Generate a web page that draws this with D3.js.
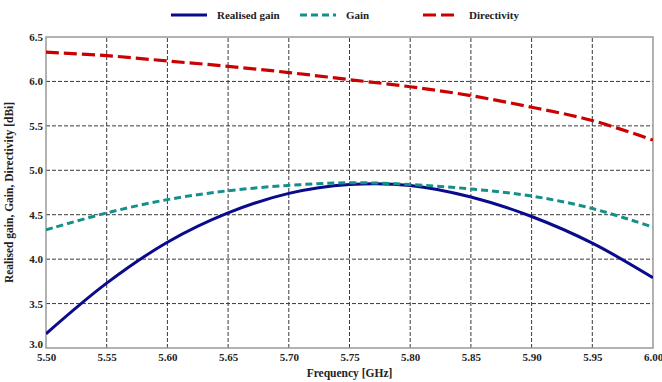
<!DOCTYPE html>
<html>
<head>
<meta charset="utf-8">
<script src="https://cdn.jsdelivr.net/npm/d3@7"></script>
<style>
  html, body { margin: 0; padding: 0; background: #fff; }
  svg text { font-family: "Liberation Serif", "Times New Roman", serif; font-weight: bold; fill: #222; }
</style>
</head>
<body>
<svg id="chart" width="662" height="382"></svg>
<script>
// Frequency sweep (GHz) and the three antenna quantities (dBi)
const freq = [5.50, 5.55, 5.60, 5.65, 5.70, 5.75, 5.80, 5.85, 5.90, 5.95, 6.00];
const realisedGain = [3.16, 3.73, 4.19, 4.52, 4.74, 4.84, 4.83, 4.70, 4.48, 4.18, 3.79];
const gain = [4.33, 4.52, 4.67, 4.77, 4.83, 4.86, 4.84, 4.79, 4.71, 4.57, 4.36];
const directivity = [6.33, 6.29, 6.23, 6.17, 6.10, 6.02, 5.94, 5.84, 5.71, 5.56, 5.34];
const xTicks = [5.50, 5.55, 5.60, 5.65, 5.70, 5.75, 5.80, 5.85, 5.90, 5.95, 6.00];
const yTicks = [3.0, 3.5, 4.0, 4.5, 5.0, 5.5, 6.0, 6.5];

const series = [
  { name: "Realised gain", values: realisedGain, color: "#0a0a8c", dash: null, width: 3 },
  { name: "Gain", values: gain, color: "#14908a", dash: "7,4", width: 3 },
  { name: "Directivity", values: directivity, color: "#cc0000", dash: "13,5", width: 3.2 }
];

const svg = d3.select("#chart");
const m = { left: 46, right: 9, top: 37, bottom: 34 };
const W = 662, H = 382;
const x = d3.scaleLinear().domain([5.5, 6.0]).range([m.left, W - m.right]);
const y = d3.scaleLinear().domain([3.0, 6.5]).range([H - m.bottom, m.top]);

// grid
const grid = svg.append("g");
grid.selectAll("line.v").data(xTicks.slice(1, -1)).enter().append("line")
  .attr("x1", d => x(d)).attr("x2", d => x(d))
  .attr("y1", y(3.0)).attr("y2", y(6.5))
  .attr("stroke", "#3a3a3a").attr("stroke-width", 1).attr("stroke-dasharray", "4,2");
grid.selectAll("line.h").data(yTicks.slice(1, -1)).enter().append("line")
  .attr("y1", d => y(d)).attr("y2", d => y(d))
  .attr("x1", x(5.5)).attr("x2", x(6.0))
  .attr("stroke", "#3a3a3a").attr("stroke-width", 1).attr("stroke-dasharray", "4,2");

// frame
svg.append("rect")
  .attr("x", x(5.5)).attr("y", y(6.5))
  .attr("width", x(6.0) - x(5.5)).attr("height", y(3.0) - y(6.5))
  .attr("fill", "none").attr("stroke", "#999").attr("stroke-width", 1.5);

// tick labels
const xAxis = d3.axisBottom(x).tickValues(xTicks).tickFormat(d3.format(".2f")).tickSize(0).tickPadding(5);
const gx = svg.append("g").attr("transform", `translate(0,${y(3.0)})`).call(xAxis);
gx.select(".domain").remove();
gx.selectAll("text").attr("font-size", 11).style("font-family", "Liberation Serif").style("font-weight", "bold").attr("fill", "#222");

const yAxis = d3.axisLeft(y).tickValues(yTicks).tickFormat(d3.format(".1f")).tickSize(0).tickPadding(3);
const gy = svg.append("g").attr("transform", `translate(${x(5.5)},0)`).call(yAxis);
gy.select(".domain").remove();
gy.selectAll("text").attr("font-size", 11).style("font-family", "Liberation Serif").style("font-weight", "bold").attr("fill", "#222");
// lift the bottom value label clear of the first frequency label
gy.selectAll(".tick").filter(d => d === 3.0).select("text").attr("y", -4);

// lines
const line = d3.line().curve(d3.curveCatmullRom.alpha(0.5))
  .x((d, i) => x(freq[i])).y(d => y(d));
svg.append("clipPath").attr("id", "clip").append("rect")
  .attr("x", x(5.5)).attr("y", y(6.5)).attr("width", x(6.0) - x(5.5)).attr("height", y(3.0) - y(6.5));
svg.append("g").attr("clip-path", "url(#clip)").selectAll("path").data(series).enter().append("path")
  .attr("d", d => line(d.values))
  .attr("fill", "none").attr("stroke", d => d.color).attr("stroke-width", d => d.width)
  .attr("stroke-dasharray", d => d.dash);

// axis titles
svg.append("text").attr("x", (x(5.5) + x(6.0)) / 2).attr("y", 377)
  .attr("text-anchor", "middle").attr("font-size", 11.5).text("Frequency [GHz]");
svg.append("text").attr("transform", `translate(13,${(y(3.0) + y(6.5)) / 2}) rotate(-90)`)
  .attr("text-anchor", "middle").attr("font-size", 11.5).text("Realised gain,  Gain,  Directivity [dBi]");

// legend
const legendX = [171, 300, 423];
const leg = svg.append("g").selectAll("g").data(series).enter().append("g")
  .attr("transform", (d, i) => `translate(${legendX[i]},15)`);
leg.append("line").attr("x1", 0).attr("x2", 36).attr("y1", 0).attr("y2", 0)
  .attr("stroke", d => d.color).attr("stroke-width", 3.2)
  .attr("stroke-dasharray", d => d.dash);
leg.append("text").attr("x", 46).attr("y", 4).attr("font-size", 11).text(d => d.name);
</script>
</body>
</html>
